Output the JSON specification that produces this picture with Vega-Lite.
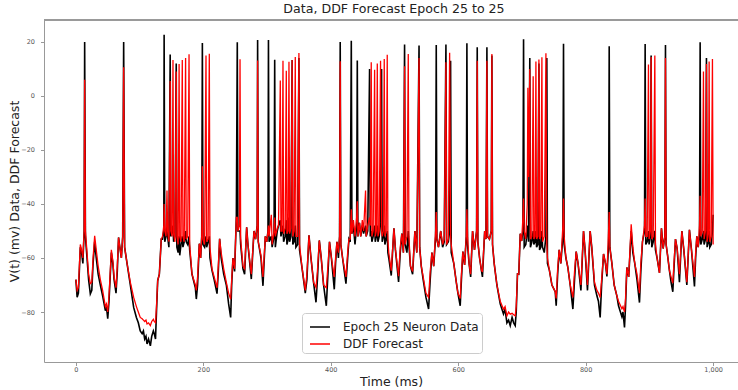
{
  "$schema": "https://vega.github.io/schema/vega-lite/v6.json",
  "autosize": "none",
  "width": 694,
  "height": 342,
  "padding": {"left": 44, "top": 20, "right": 0, "bottom": 28},
  "background": "white",
  "config": {"font": "DejaVu Sans", "view": {"stroke": null}},
  "title": {"text": "Data, DDF Forecast Epoch 25 to 25", "fontSize": 12.6, "fontWeight": "normal", "color": "#222", "anchor": "middle", "offset": 4, "dx": 3},
  "data": {"values": [
    {"t":0,"d":-68,"f":-68},{"t":2,"d":-74.5,"f":-72},{"t":4,"d":-73,"f":-71},{"t":7,"d":-56,"f":-55},{"t":9,"d":-58,"f":-57},{"t":11,"d":-62,"f":-60},{"t":13,"d":-50,"f":-50},{"t":13.8,"d":20,"f":6},{"t":15,"d":-52,"f":-50},{"t":17.5,"d":-60,"f":-58},{"t":20,"d":-68,"f":-66},{"t":22.7,"d":-73.3,"f":-69.5},{"t":25,"d":-72,"f":-69},{"t":27,"d":-62,"f":-60},{"t":29.5,"d":-54,"f":-51.8},{"t":32,"d":-60,"f":-57},{"t":35,"d":-66,"f":-63},{"t":38.4,"d":-70,"f":-68},{"t":42,"d":-74,"f":-72},{"t":46.3,"d":-79.5,"f":-78},{"t":48,"d":-78,"f":-77},{"t":50,"d":-82.5,"f":-80},{"t":52,"d":-76,"f":-74},{"t":55.7,"d":-58,"f":-57},{"t":58,"d":-62,"f":-61},{"t":60,"d":-68,"f":-67},{"t":63,"d":-73,"f":-71},{"t":65,"d":-65,"f":-63},{"t":67,"d":-52.4,"f":-52.4},{"t":69,"d":-56,"f":-56},{"t":71.4,"d":-60,"f":-60},{"t":73.5,"d":-52,"f":-52},{"t":75,"d":20,"f":10.6},{"t":76.5,"d":-56,"f":-56},{"t":80.3,"d":-62,"f":-62},{"t":85.5,"d":-70,"f":-69},{"t":90.7,"d":-78.3,"f":-74.6},{"t":95,"d":-82,"f":-78},{"t":98,"d":-84,"f":-80},{"t":101,"d":-87,"f":-82},{"t":104,"d":-88,"f":-82.5},{"t":106,"d":-87,"f":-83},{"t":108,"d":-90,"f":-83.5},{"t":110,"d":-89,"f":-83},{"t":111.7,"d":-91.8,"f":-84.4},{"t":114,"d":-90,"f":-84},{"t":116.9,"d":-92.5,"f":-85},{"t":119,"d":-89,"f":-83.5},{"t":121.6,"d":-87,"f":-82.7},{"t":123,"d":-88,"f":-83.5},{"t":125,"d":-90,"f":-84},{"t":126.5,"d":-80,"f":-78},{"t":128.4,"d":-68.4,"f":-68.4},{"t":131,"d":-66,"f":-66},{"t":134,"d":-53,"f":-53},
    {"t":136,"d":-53,"f":-52},{"t":138,"d":-50,"f":-48},{"t":138.5,"d":22.6,"f":-40},{"t":139.5,"d":-54,"f":-50},{"t":141.5,"d":-52,"f":-52},{"t":143,"d":-48,"f":-35},{"t":144,"d":-52,"f":-50},{"t":146,"d":-56,"f":-54},{"t":148,"d":15.3,"f":5.5},{"t":149,"d":-52,"f":-50},{"t":151,"d":-50,"f":-52},{"t":152.4,"d":-48,"f":13.3},{"t":153.4,"d":-54,"f":-51},{"t":155.5,"d":-52,"f":-54},{"t":157.5,"d":12,"f":9},{"t":158.5,"d":-56,"f":-52},{"t":160.5,"d":-58,"f":-55},{"t":162,"d":-52,"f":11.8},{"t":163,"d":-59,"f":-52},{"t":165,"d":-55,"f":-54},{"t":167,"d":-52,"f":13.3},{"t":168,"d":-56,"f":-52},{"t":170,"d":-54,"f":-54},{"t":172.2,"d":-50,"f":14},{"t":173.2,"d":-54,"f":-53},{"t":175.5,"d":-55,"f":-52},{"t":177.6,"d":-52,"f":15.4},{"t":178.6,"d":-57,"f":-55},{"t":182.2,"d":-66,"f":-66},{"t":187.5,"d":-71,"f":-70},{"t":189,"d":-75.2,"f":-72},{"t":191,"d":-70,"f":-67},{"t":193.7,"d":-54.7,"f":-54.7},{"t":195.8,"d":-60,"f":-60},{"t":197.5,"d":-52,"f":-52},{"t":198.5,"d":19.6,"f":-26},{"t":199.5,"d":-55,"f":-53},{"t":202,"d":-56,"f":-55},{"t":204.2,"d":-52,"f":15},{"t":205.2,"d":-56,"f":-54},{"t":207.5,"d":-54,"f":-53},{"t":209.4,"d":-52,"f":15.6},{"t":210.4,"d":-60,"f":-56},{"t":213.6,"d":-64.6,"f":-64},{"t":217,"d":-68,"f":-67},{"t":221.5,"d":-73.2,"f":-71},{"t":223.5,"d":-65,"f":-63},{"t":225.6,"d":-52.9,"f":-52.9},{"t":228,"d":-60,"f":-58},{"t":232,"d":-66,"f":-64},{"t":236.1,"d":-70,"f":-69},{"t":239.7,"d":-77,"f":-73},{"t":242.9,"d":-82,"f":-75.3},{"t":244.5,"d":-70,"f":-68},{"t":246.5,"d":-60,"f":-60},{"t":249.1,"d":-65,"f":-64},{"t":251.8,"d":-45,"f":-45},{"t":253.3,"d":19.9,"f":-45},{"t":254.3,"d":-50,"f":-50},{"t":256.6,"d":-50,"f":-48},{"t":257.6,"d":-50,"f":13.6},{"t":258.6,"d":-55,"f":-53},{"t":262.2,"d":-64,"f":-63},{"t":264.8,"d":-66,"f":-64},{"t":268,"d":-48.6,"f":-48.6},{"t":270,"d":-55,"f":-55},{"t":275.3,"d":-67.8,"f":-66},{"t":279.5,"d":-50,"f":-50},{"t":282,"d":-53,"f":-53},{"t":284.5,"d":-48,"f":-48},{"t":285.2,"d":20.7,"f":13.1},{"t":286.2,"d":-54,"f":-54},{"t":290.5,"d":-60,"f":-59},{"t":293.6,"d":-70.3,"f":-67},{"t":297.3,"d":-52,"f":-52},{"t":299.5,"d":-54,"f":-54},{"t":301.5,"d":-50,"f":-50},{"t":302.2,"d":20.7,"f":-48},{"t":303.2,"d":-54,"f":-52},{"t":306.7,"d":-52,"f":-44},{"t":308,"d":-56,"f":-55},{"t":311,"d":-52,"f":-50},{"t":312,"d":13.4,"f":-45},{"t":313,"d":-56,"f":-52},{"t":316,"d":-50,"f":-49},{"t":318,"d":-48,"f":-48},{"t":320.8,"d":-46,"f":5.7},{"t":321.8,"d":-52,"f":-50},{"t":323.5,"d":-50,"f":-50},{"t":325,"d":-48,"f":13},{"t":326,"d":-54,"f":-51},{"t":328.5,"d":-52,"f":-49},{"t":330.2,"d":-46,"f":9.3},{"t":331.2,"d":-55,"f":-51},{"t":333,"d":-53,"f":-50},{"t":334.4,"d":-45,"f":12.6},{"t":335.4,"d":-54,"f":-51},{"t":337.5,"d":-52,"f":-49},{"t":339.4,"d":13.3,"f":13.3},{"t":340.4,"d":-55,"f":-52},{"t":342.5,"d":-54,"f":-50},{"t":344.3,"d":-48,"f":14.4},{"t":345.3,"d":-56,"f":-52},{"t":348,"d":-55,"f":-52},{"t":350,"d":14,"f":15.9},{"t":351,"d":-57,"f":-55},{"t":354.8,"d":-63.5,"f":-63.5},{"t":360,"d":-73,"f":-72},{"t":362.5,"d":-68,"f":-66},{"t":365.8,"d":-51.6,"f":-51.6},{"t":368.5,"d":-59,"f":-59},{"t":373,"d":-69,"f":-69},{"t":376.8,"d":-76.4,"f":-70.9},{"t":379,"d":-68,"f":-65},{"t":382,"d":-53.5,"f":-53.5},{"t":385,"d":-60,"f":-60},{"t":388.7,"d":-70,"f":-70},{"t":393,"d":-77.7,"f":-71},{"t":395.5,"d":-66,"f":-63},{"t":398,"d":-54,"f":-54},{"t":401,"d":-60,"f":-60},{"t":405.5,"d":-71.6,"f":-67},{"t":407.5,"d":-62,"f":-60},{"t":409.7,"d":-54,"f":-54},{"t":412,"d":-60,"f":-58},{"t":413.8,"d":-52,"f":-52},{"t":414.8,"d":20,"f":12.8},{"t":415.8,"d":-55,"f":-55},{"t":418.5,"d":-60,"f":-60},{"t":423.8,"d":-69.5,"f":-67},{"t":426.5,"d":-60,"f":-58},{"t":428.5,"d":-53,"f":-53},{"t":430.5,"d":-54,"f":-53},{"t":432.2,"d":20.4,"f":-42},{"t":433.2,"d":-51,"f":-51},{"t":435.5,"d":-48,"f":-46},{"t":438,"d":-55,"f":-52},{"t":440.6,"d":-48,"f":-45},{"t":441.6,"d":13.1,"f":-39},{"t":442.6,"d":-52,"f":-52},{"t":445,"d":-47,"f":-47},{"t":447,"d":-52,"f":-52},{"t":449.5,"d":-48,"f":-46},{"t":451.5,"d":-51,"f":-50},{"t":454.6,"d":-48,"f":-35},{"t":455.6,"d":-52,"f":-52},{"t":458,"d":-50,"f":-48},{"t":460.9,"d":10,"f":-45},{"t":462,"d":-52,"f":-48},{"t":463.5,"d":-50,"f":12.5},{"t":464.5,"d":-54,"f":-52},{"t":466.5,"d":-52,"f":-50},{"t":468.8,"d":-48,"f":9.7},{"t":469.8,"d":-54,"f":-52},{"t":471.5,"d":-52,"f":-50},{"t":473,"d":-48,"f":12},{"t":474,"d":-54,"f":-52},{"t":476,"d":-52,"f":-50},{"t":478.1,"d":-47,"f":13},{"t":479.7,"d":10,"f":-50},{"t":480.7,"d":-54,"f":-52},{"t":482.5,"d":-52,"f":-50},{"t":483.9,"d":-48,"f":13.7},{"t":484.9,"d":-55,"f":-52},{"t":487,"d":-53,"f":-50},{"t":488.6,"d":-50,"f":15.2},{"t":489.6,"d":-58,"f":-53},{"t":491,"d":-60,"f":-58},{"t":494.9,"d":-66.5,"f":-64.7},{"t":499.1,"d":-49,"f":-49},{"t":501.5,"d":-57,"f":-57},{"t":506.4,"d":-68.9,"f":-66.7},{"t":509,"d":-58,"f":-56},{"t":511.5,"d":-51,"f":-51},{"t":514,"d":-58,"f":-58},{"t":515.8,"d":19,"f":11},{"t":516.8,"d":-55,"f":-55},{"t":519.5,"d":-58,"f":-52},{"t":521.6,"d":-50,"f":15.5},{"t":522.6,"d":-55,"f":-52},{"t":525,"d":-63,"f":-63},{"t":528.4,"d":-66,"f":-65},{"t":532,"d":-50,"f":-50},{"t":535,"d":-58,"f":-58},{"t":538.5,"d":18.7,"f":14},{"t":539.5,"d":-56,"f":-56},{"t":542,"d":-63,"f":-63},{"t":545,"d":-68,"f":-67},{"t":549.3,"d":-74.5,"f":-73},{"t":553.5,"d":-78.9,"f":-74.6},{"t":556,"d":-68,"f":-65},{"t":558.7,"d":-58,"f":-58},{"t":561.5,"d":-63,"f":-63},{"t":564.5,"d":-52,"f":-50},{"t":565.5,"d":18.8,"f":-43},{"t":566.5,"d":-53,"f":-53},{"t":569,"d":-56,"f":-56},{"t":572.5,"d":-50,"f":-50},{"t":575.5,"d":-56,"f":-55},{"t":578,"d":-54,"f":-53},{"t":580.7,"d":19,"f":12.5},{"t":581.7,"d":-55,"f":-55},{"t":584.5,"d":-54,"f":-53},{"t":586.5,"d":-50,"f":16},{"t":588,"d":13,"f":-52},{"t":589,"d":-58,"f":-55},{"t":593,"d":-62,"f":-62},{"t":597,"d":-69,"f":-69},{"t":599.5,"d":-73,"f":-73},{"t":603.1,"d":-77.7,"f":-75},{"t":605,"d":-68,"f":-66},{"t":607.3,"d":-57.6,"f":-57.6},{"t":610,"d":-62.6,"f":-62.6},{"t":612.6,"d":-52,"f":-52},{"t":613.6,"d":19.5,"f":-42},{"t":614.6,"d":-55,"f":-52},{"t":617,"d":-62,"f":-62},{"t":619.5,"d":-67,"f":-66},{"t":622.5,"d":-50,"f":-50},{"t":625.5,"d":-57,"f":-57},{"t":628.8,"d":-50,"f":-50},{"t":629.8,"d":18,"f":13},{"t":630.8,"d":-54,"f":-54},{"t":633.5,"d":-60,"f":-60},{"t":636.5,"d":-64.8,"f":-64.8},{"t":638,"d":-67,"f":-65},{"t":641.5,"d":-50,"f":-50},{"t":643.5,"d":-53,"f":-53},{"t":645,"d":18,"f":13},{"t":646,"d":-52,"f":-52},{"t":649,"d":-53,"f":-53},{"t":651.8,"d":-50,"f":-50},{"t":652.8,"d":15,"f":15.5},{"t":653.8,"d":-55,"f":-55},{"t":656.5,"d":-62.2,"f":-62.2},{"t":660.7,"d":-70,"f":-70},{"t":665.9,"d":-77,"f":-76},{"t":671,"d":-80.7,"f":-79},{"t":673.5,"d":-79,"f":-78},{"t":676.4,"d":-84,"f":-81.4},{"t":679,"d":-83,"f":-80},{"t":681.6,"d":-85,"f":-80.8},{"t":684.5,"d":-82,"f":-80.5},{"t":687,"d":-84,"f":-81},{"t":689.4,"d":-85,"f":-81.4},{"t":691,"d":-80,"f":-78},{"t":693,"d":-65.9,"f":-65.9},{"t":695,"d":-66,"f":-66},{"t":697.3,"d":-51,"f":-51},{"t":699.5,"d":-53.7,"f":-53.7},{"t":701.5,"d":-50,"f":-45},{"t":702.5,"d":21,"f":-38},{"t":703.5,"d":-56,"f":-50},{"t":706,"d":-55,"f":-53},{"t":708.3,"d":-50,"f":-40},{"t":709.3,"d":-48,"f":3},{"t":710.3,"d":-54,"f":-30},{"t":712.3,"d":14,"f":10},{"t":713.3,"d":-56,"f":-53},{"t":715.5,"d":-54,"f":-52},{"t":717.6,"d":-50,"f":7.3},{"t":718.6,"d":-55,"f":-53},{"t":720.5,"d":-54,"f":-52},{"t":721.9,"d":-50,"f":12.7},{"t":722.9,"d":-56,"f":-53},{"t":725,"d":-55,"f":-52},{"t":726.6,"d":12,"f":13.5},{"t":727.6,"d":-57,"f":-53},{"t":729.5,"d":-56,"f":-52},{"t":731.3,"d":-50,"f":14.3},{"t":732.3,"d":-56,"f":-54},{"t":735,"d":-58,"f":-52},{"t":737.6,"d":-52,"f":15.8},{"t":739,"d":14,"f":-55},{"t":740,"d":-62,"f":-60},{"t":743,"d":-64.5,"f":-64.5},{"t":747,"d":-70,"f":-70},{"t":752.2,"d":-72.5,"f":-72.5},{"t":753.7,"d":-77.7,"f":-75},{"t":756,"d":-66,"f":-64},{"t":758.4,"d":-57,"f":-57},{"t":761,"d":-62,"f":-62},{"t":764.2,"d":-52,"f":-48},{"t":765.2,"d":19.3,"f":-38},{"t":766.2,"d":-55,"f":-52},{"t":769,"d":-60,"f":-60},{"t":772,"d":-63.5,"f":-63.5},{"t":775.7,"d":-70,"f":-70},{"t":779.9,"d":-78.9,"f":-74.6},{"t":782.5,"d":-68,"f":-65},{"t":785.1,"d":-57.6,"f":-57.6},{"t":788,"d":-62,"f":-62},{"t":792.5,"d":-72,"f":-70},{"t":796.6,"d":-50,"f":-50},{"t":799,"d":-57,"f":-57},{"t":802.8,"d":-72,"f":-70},{"t":807,"d":-50,"f":-50},{"t":809.5,"d":-56,"f":-56},{"t":813.8,"d":-70,"f":-69},{"t":817.6,"d":-74,"f":-72},{"t":820,"d":-76,"f":-73},{"t":822.7,"d":-82,"f":-74.6},{"t":825,"d":-70,"f":-68},{"t":828,"d":-58.5,"f":-58.5},{"t":831,"d":-62,"f":-62},{"t":833.3,"d":-66.8,"f":-66},{"t":835.9,"d":-55,"f":-50},{"t":836.9,"d":18.4,"f":-43},{"t":837.9,"d":-56,"f":-56},{"t":841.1,"d":-62,"f":-62},{"t":844.7,"d":-70,"f":-70},{"t":848.9,"d":-74,"f":-74},{"t":851.5,"d":-77.7,"f":-76},{"t":856.8,"d":-81.7,"f":-78.8},{"t":858.5,"d":-80,"f":-78},{"t":860.9,"d":-85.7,"f":-80},{"t":862.5,"d":-78,"f":-75},{"t":864.6,"d":-63.5,"f":-63.5},{"t":867.5,"d":-67,"f":-67},{"t":871.4,"d":-50,"f":-47.5},{"t":874,"d":-58,"f":-56},{"t":877,"d":-62,"f":-62},{"t":880.5,"d":-68,"f":-66},{"t":884.4,"d":-76.5,"f":-73},{"t":886.5,"d":-65,"f":-62},{"t":889.1,"d":-54,"f":-54},{"t":892.3,"d":-50,"f":-48},{"t":893.3,"d":19.2,"f":-38},{"t":894.3,"d":-55,"f":-52},{"t":896.5,"d":-54,"f":-52},{"t":898.5,"d":-50,"f":11.6},{"t":899.5,"d":-55,"f":-53},{"t":901.5,"d":-52,"f":-50},{"t":902.7,"d":15,"f":14.4},{"t":903.7,"d":-56,"f":-53},{"t":906,"d":-54,"f":-52},{"t":908.5,"d":-50,"f":15},{"t":909.5,"d":-57,"f":-55},{"t":912,"d":-60,"f":-60},{"t":915.8,"d":-65.5,"f":-65.5},{"t":918.9,"d":-49,"f":-49},{"t":921.5,"d":-56.5,"f":-56.5},{"t":924.2,"d":-52,"f":-52},{"t":925.2,"d":18.8,"f":14},{"t":926.2,"d":-55,"f":-55},{"t":928.5,"d":-59,"f":-59},{"t":931.5,"d":-64.8,"f":-64.8},{"t":934,"d":-69,"f":-67},{"t":936.7,"d":-72.5,"f":-69.3},{"t":938.5,"d":-64,"f":-62},{"t":940.9,"d":-53,"f":-53},{"t":943.5,"d":-56.5,"f":-56.5},{"t":947.1,"d":-69,"f":-66},{"t":950.9,"d":-50,"f":-50},{"t":954,"d":-57,"f":-57},{"t":958.7,"d":-70,"f":-69},{"t":962.8,"d":-49.6,"f":-49.6},{"t":966,"d":-57,"f":-57},{"t":970.7,"d":-70.5,"f":-67},{"t":972.5,"d":-60,"f":-58},{"t":974.4,"d":-52,"f":-52},{"t":976.5,"d":-56,"f":-56},{"t":978.6,"d":-52,"f":-48},{"t":979.6,"d":19.9,"f":-37},{"t":980.6,"d":-55,"f":-52},{"t":983,"d":-53,"f":-50},{"t":984.8,"d":-50,"f":9},{"t":985.8,"d":-55,"f":-53},{"t":988,"d":-53,"f":-50},{"t":989.5,"d":14,"f":11.8},{"t":990.5,"d":-56,"f":-54},{"t":992.5,"d":-54,"f":-51},{"t":993.7,"d":-50,"f":12.7},{"t":994.7,"d":-56,"f":-54},{"t":997,"d":-55,"f":-52},{"t":998.9,"d":-50,"f":13.7},{"t":1000,"d":-44,"f":-55}
  ]},
  "layer": [
    {
      "mark": {"type": "line", "strokeWidth": 1.6, "interpolate": "linear"},
      "encoding": {
        "x": {"field": "t", "type": "quantitative", "scale": {"domain": [-50, 1039], "nice": false, "zero": false},
          "axis": {"values": [0, 200, 400, 600, 800, 1000], "title": "Time (ms)", "titleFontSize": 12.5, "titleFontWeight": "normal", "titleColor": "#222", "titlePadding": 2,
            "labelFontSize": 6.5, "labelColor": "#555", "tickColor": "#999", "tickSize": 3.5, "domainColor": "#999", "grid": false, "labelPadding": 1}},
        "y": {"field": "d", "type": "quantitative", "scale": {"domain": [-98.5, 28.1], "nice": false, "zero": false},
          "axis": {"values": [-80, -60, -40, -20, 0, 20], "title": "V(t) (mv) Data, DDF Forecast", "titleFontSize": 12.5, "titleFontWeight": "normal", "titleColor": "#222", "titlePadding": -1,
            "labelFontSize": 6.5, "labelColor": "#555", "tickColor": "#999", "tickSize": 3.5, "domainColor": "#999", "grid": false, "labelPadding": 6}},
        "color": {"datum": "Epoch 25 Neuron Data", "type": "nominal",
          "scale": {"domain": ["Epoch 25 Neuron Data", "DDF Forecast"], "range": ["black", "red"]},
          "legend": {"title": null, "orient": "none", "legendX": 258, "legendY": 293, "symbolType": "stroke", "symbolSize": 400, "symbolStrokeWidth": 1.5, "symbolOffset": 4,
            "labelFontSize": 12, "labelColor": "#222", "labelLimit": 300, "strokeColor": "#ccc", "cornerRadius": 3, "padding": 3, "rowPadding": -2, "labelOffset": 12, "fillColor": "white"}}
      }
    },
    {
      "mark": {"type": "line", "strokeWidth": 1.3, "interpolate": "linear"},
      "encoding": {
        "x": {"field": "t", "type": "quantitative"},
        "y": {"field": "f", "type": "quantitative"},
        "color": {"datum": "DDF Forecast", "type": "nominal"}
      }
    },
    {
      "mark": {"type": "rule", "color": "#999", "strokeWidth": 1},
      "encoding": {"y": {"datum": 28.1, "type": "quantitative"}}
    }
  ],
  "resolve": {"scale": {"y": "shared"}}
}
